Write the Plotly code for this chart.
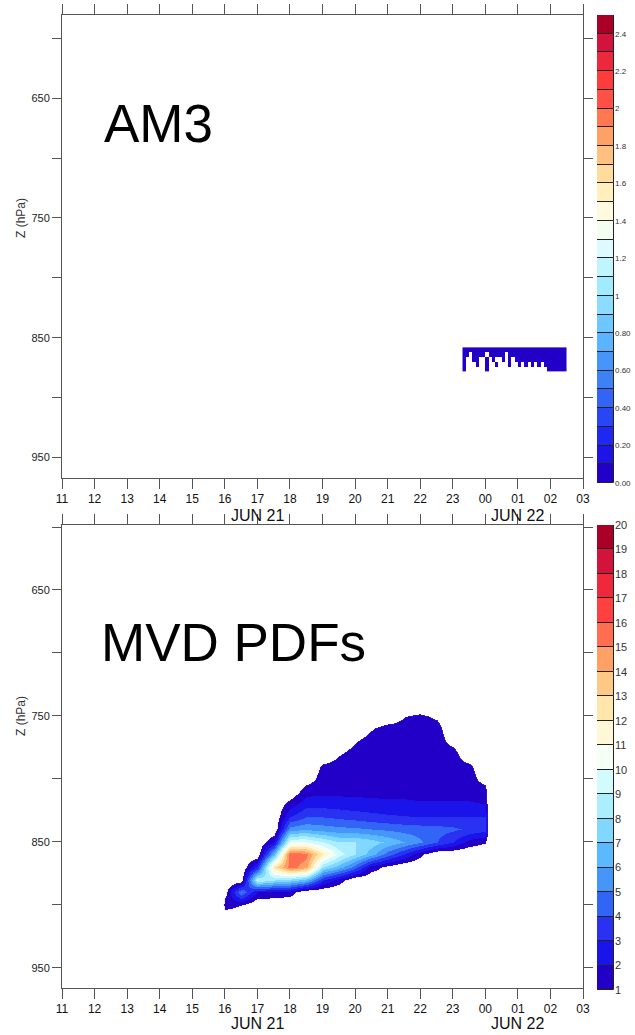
import plotly.graph_objects as go
import numpy as np

W, H = 635, 1035


def fx(X):  # page pixel -> paper x
    return X / W


def fy(Y):  # page pixel -> paper y
    return 1 - Y / H


# ---------------- axis labels / ticks ----------------
hours = list(range(11, 28))
hour_labels = ['11', '12', '13', '14', '15', '16', '17', '18', '19', '20',
               '21', '22', '23', '00', '01', '02', '03']
date_labels = ['JUN 21', 'JUN 22']
date_hours = [17, 25]

p_ticks = [600, 650, 700, 750, 800, 850, 900, 950]
p_ticklabels = ['', '650', '', '750', '', '850', '', '950']

# ---------------- AM3 field (top panel) ----------------
am3_time = [round(23.35 + 0.1 * i, 2) for i in range(32)]
am3_pres = [860, 864, 868, 872, 876]
am3_value = 0.05
am3_mask = [
    [1] * 32,
    [1, 1, 0, 1, 1, 1, 1, 0, 1, 1, 1, 1, 1, 0, 1, 1, 1] + [1] * 9 + [1] * 6,
    [1, 0, 0, 1, 1, 0, 0, 1, 0, 1, 0, 0, 1, 0, 1, 0, 1] + [1] * 9 + [1] * 6,
    [1, 0, 0, 0, 1, 0, 0, 1, 0, 0, 1, 0, 0, 0, 1, 0, 0] + [1, 0, 1, 0, 1, 0, 1, 0, 1] + [1] * 6,
    [1, 0, 0, 0, 0, 0, 0, 1, 0, 0, 0, 0, 0, 0, 0, 0, 0] + [0] * 9 + [1] * 6,
]

am3_levels = [round(0.1 * i, 1) for i in range(26)]
am3_ticks = [0.0, 0.2, 0.4, 0.6, 0.8, 1.0, 1.2, 1.4, 1.6, 1.8, 2.0, 2.2, 2.4]
am3_ticklabels = ['0.00', '0.20', '0.40', '0.60', '0.80', '1', '1.2', '1.4',
                  '1.6', '1.8', '2', '2.2', '2.4']
am3_colors = ['#2200c8', '#1e14e6', '#1e28f0', '#2846f5', '#3264f5', '#3c82f5',
              '#4696fa', '#5ab4ff', '#6ec8ff', '#8cdcff', '#a0ebff', '#bef5ff',
              '#dcfaff', '#f5fff0', '#fffae0', '#fff0be', '#ffdc9b', '#ffc080',
              '#ffa064', '#ff7850', '#ff5046', '#ff3c3c', '#eb283c', '#d2143c',
              '#aa0028']

# ---------------- MVD PDF field (bottom panel) ----------------
mvd_time = [15.9, 16.0, 16.5, 17.0, 17.5, 18.0, 18.5, 19.0, 19.5, 20.0,
            20.5, 21.0, 21.5, 22.0, 22.5, 23.0, 23.5, 24.0, 24.1]
mvd_pres = [740, 750, 760, 770, 780, 790, 800, 810, 820, 830, 840, 850,
            860, 870, 880, 890, 900, 910]
# one vertical profile per time (values at mvd_pres)
mvd_profiles = [
    [0] * 18,
    [0, 0, 0, 0, 0, 0, 0, 0, 0, 0, 0, 0, 0, 0, 0, 0.5, 1.6, 0],
    [0, 0, 0, 0, 0, 0, 0, 0, 0, 0, 0, 0, 0, 0, 0.2, 5.0, 1.0, 0],
    [0, 0, 0, 0, 0, 0, 0, 0, 0, 0, 0, 0, 0, 3.0, 9.0, 2.0, 0, 0],
    [0, 0, 0, 0, 0, 0, 0, 0, 0, 0, 0, 2.0, 6.5, 12.5, 8.0, 1.8, 0, 0],
    [0, 0, 0, 0, 0, 0, 0, 0, 1.5, 3.0, 5.5, 10.0, 15.8, 15.4, 7.5, 1.5, 0, 0],
    [0, 0, 0, 0, 0, 0, 0.4, 1.6, 2.6, 4.0, 5.8, 10.0, 15.3, 14.5, 6.5, 0, 0, 0],
    [0, 0, 0, 0, 0, 1.2, 1.5, 1.7, 2.6, 4.0, 5.5, 9.0, 12.0, 8.0, 3.0, 0, 0, 0],
    [0, 0, 0, 0, 0.9, 1.5, 1.5, 1.7, 2.5, 3.8, 5.3, 8.0, 9.5, 6.5, 1.5, 0, 0, 0],
    [0, 0, 0, 0.9, 1.5, 1.5, 1.5, 1.7, 2.4, 3.6, 5.2, 8.0, 8.0, 4.5, 0, 0, 0, 0],
    [0, 0, 0.85, 1.5, 1.5, 1.5, 1.5, 1.7, 2.3, 3.4, 5.0, 7.5, 6.5, 1.6, 0, 0, 0, 0],
    [0, 0, 1.5, 1.5, 1.5, 1.5, 1.5, 1.7, 2.2, 3.2, 4.8, 6.8, 4.5, 0.6, 0, 0, 0, 0],
    [0, 0.95, 1.5, 1.5, 1.5, 1.5, 1.5, 1.7, 2.2, 3.1, 4.6, 6.0, 3.0, 0, 0, 0, 0, 0],
    [0, 1.2, 1.5, 1.5, 1.5, 1.5, 1.5, 1.7, 2.1, 3.0, 4.5, 5.2, 1.3, 0, 0, 0, 0, 0],
    [0, 0.8, 1.4, 1.5, 1.5, 1.5, 1.5, 1.7, 2.1, 3.0, 4.4, 4.0, 0, 0, 0, 0, 0, 0],
    [0, 0, 0, 0.6, 1.5, 1.5, 1.5, 1.7, 2.1, 3.0, 4.2, 3.0, 0, 0, 0, 0, 0, 0],
    [0, 0, 0, 0, 0, 1.3, 1.5, 1.7, 2.1, 3.0, 3.8, 1.6, 0, 0, 0, 0, 0, 0],
    [0, 0, 0, 0, 0, 0, 0.5, 1.5, 2.0, 3.0, 3.4, 1.1, 0, 0, 0, 0, 0, 0],
    [0] * 18,
]

mvd_levels = list(range(1, 21))
mvd_ticklabels = [str(v) for v in mvd_levels]
mvd_colors = ['#2200c8', '#1a14ea', '#2832f0', '#3264f5', '#4696fa', '#5ab9ff',
              '#82d7ff', '#aaeeff', '#d2fbff', '#f5fff5', '#fff8d8', '#ffe6aa',
              '#ffc887', '#ffa064', '#ff6e50', '#ff4040', '#f0283c', '#d2143c',
              '#aa0028']


def stepped(colors):
    n = len(colors)
    sc = []
    for i, c in enumerate(colors):
        sc.append([i / n, c])
        sc.append([(i + 1) / n, c])
    return sc


am3_z = [[am3_value if m else None for m in row] for row in am3_mask]
mvd_z = np.array(mvd_profiles, dtype=float).T

fig = go.Figure()

fig.add_trace(go.Heatmap(
    x=am3_time, y=am3_pres, z=am3_z,
    colorscale=stepped(am3_colors), zmin=am3_levels[0], zmax=am3_levels[-1],
    showscale=False, hoverinfo='skip', xaxis='x', yaxis='y'))

fig.add_trace(go.Heatmap(
    x=mvd_time, y=mvd_pres, z=mvd_z,
    colorscale=stepped(['#ffffff'] + mvd_colors), zmin=0, zmax=mvd_levels[-1],
    zsmooth='best', showscale=False, hoverinfo='skip', xaxis='x2', yaxis='y2'))

# label bars (colour keys)
fig.add_trace(go.Bar(
    x=[0] * (len(am3_levels) - 1),
    y=[round(b - a, 2) for a, b in zip(am3_levels[:-1], am3_levels[1:])],
    base=am3_levels[:-1], width=1,
    marker=dict(color=am3_colors, line=dict(color='#222222', width=1)),
    hoverinfo='skip', xaxis='x3', yaxis='y3'))

fig.add_trace(go.Bar(
    x=[0] * (len(mvd_levels) - 1),
    y=[b - a for a, b in zip(mvd_levels[:-1], mvd_levels[1:])],
    base=mvd_levels[:-1], width=1,
    marker=dict(color=mvd_colors, line=dict(color='#222222', width=1)),
    hoverinfo='skip', xaxis='x4', yaxis='y4'))

axis_col = '#555555'
common = dict(showline=True, linecolor=axis_col, linewidth=1, mirror='ticks',
              ticks='outside', tickcolor=axis_col, tickwidth=1,
              showgrid=False, zeroline=False, fixedrange=True, automargin=False)
xfont = dict(family='Liberation Sans Narrow, Liberation Sans, Arial', size=12, color='#111111')
yfont = dict(family='Liberation Sans, Arial', size=11, color='#222222')

x0, x1 = fx(62), fx(583)
top_dom = [fy(478), fy(15)]
bot_dom = [fy(988), fy(525)]

fig.update_layout(
    width=W, height=H, margin=dict(l=0, r=0, t=0, b=0, pad=0, autoexpand=False),
    paper_bgcolor='white', plot_bgcolor='white', showlegend=False,
    bargap=0,
    xaxis=dict(common, domain=[x0, x1], anchor='y', range=[11, 27],
               tickvals=hours, ticktext=hour_labels, ticklen=10, tickfont=xfont),
    yaxis=dict(common, domain=top_dom, anchor='x', range=[967, 580.6],
               tickvals=p_ticks, ticktext=p_ticklabels, ticklen=9, tickfont=yfont),
    xaxis2=dict(common, domain=[x0, x1], anchor='y2', range=[11, 27],
                tickvals=hours, ticktext=hour_labels, ticklen=10, tickfont=xfont),
    yaxis2=dict(common, domain=bot_dom, anchor='x2', range=[966, 598.4],
                tickvals=p_ticks, ticktext=p_ticklabels, ticklen=9, tickfont=yfont),
    xaxis3=dict(domain=[fx(597), fx(614)], anchor='y3', range=[-0.5, 0.5],
                visible=False, fixedrange=True, automargin=False),
    yaxis3=dict(domain=[fy(483), fy(15)], anchor='x3', side='right',
                range=[am3_levels[0], am3_levels[-1]], tickvals=am3_ticks,
                ticktext=am3_ticklabels, ticks='', showline=False, showgrid=False,
                zeroline=False, fixedrange=True, automargin=False,
                tickfont=dict(family='Liberation Sans, Arial', size=8, color='#333333')),
    xaxis4=dict(domain=[fx(597), fx(614)], anchor='y4', range=[-0.5, 0.5],
                visible=False, fixedrange=True, automargin=False),
    yaxis4=dict(domain=[fy(990), fy(525)], anchor='x4', side='right',
                range=[mvd_levels[0], mvd_levels[-1]], tickvals=mvd_levels,
                ticktext=mvd_ticklabels, ticks='', showline=False, showgrid=False,
                zeroline=False, fixedrange=True, automargin=False,
                tickfont=dict(family='Liberation Sans, Arial', size=11, color='#333333')),
)

ann = []
ann.append(dict(text='AM3', x=fx(102), y=fy(123), xref='paper', yref='paper',
                xanchor='left', yanchor='middle', showarrow=False,
                font=dict(family='Liberation Sans, Arial', size=53, color='black')))
ann.append(dict(text='MVD PDFs', x=fx(99), y=fy(642), xref='paper', yref='paper',
                xanchor='left', yanchor='middle', showarrow=False,
                font=dict(family='Liberation Sans, Arial', size=53, color='black')))
for yy in (218, 716):
    ann.append(dict(text='Z (hPa)', x=fx(21), y=fy(yy), xref='paper', yref='paper',
                    xanchor='center', yanchor='middle', textangle=-90, showarrow=False,
                    font=dict(family='Liberation Sans, Arial', size=12, color='#333333')))
for xr, yy in (('x', 515), ('x2', 1023)):
    for lab, hh in zip(date_labels, date_hours):
        ann.append(dict(text=lab, x=hh, y=fy(yy), xref=xr, yref='paper',
                        xanchor='center', yanchor='middle', showarrow=False,
                        font=dict(family='Liberation Sans Narrow, Liberation Sans, Arial',
                                  size=16, color='#111111')))
fig.update_layout(annotations=ann)

fig.write_html('out.html')
